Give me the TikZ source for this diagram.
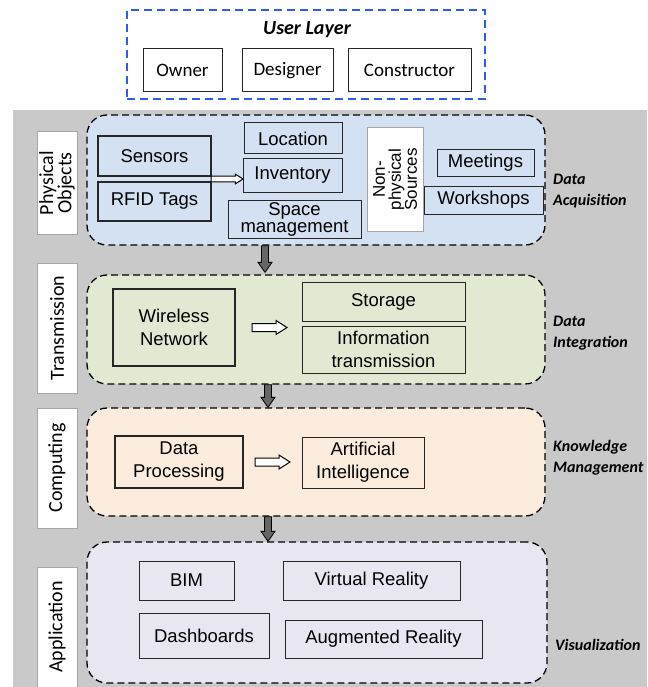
\documentclass[tikz,border=0pt]{standalone}
\usepackage{fontspec}
\setmainfont{Liberation Sans}
\newfontfamily\calibri{Carlito}
\usepackage{xcolor}
\usepackage{tikz}
\usetikzlibrary{calc,positioning}
\definecolor{bggray}{HTML}{C9C9C9}
\definecolor{userblue}{HTML}{2F5BEA}
\definecolor{physfill}{HTML}{D4E1F2}
\definecolor{transfill}{HTML}{E1E9D2}
\definecolor{compfill}{HTML}{FCECDE}
\definecolor{appfill}{HTML}{E8E6F1}
\tikzstyle{box} =[draw=black!85, line width=1pt, inner sep=0pt, outer sep=0pt, align=center, font=\fontsize{18.5}{23}\selectfont]
\tikzstyle{thickbox} =[box, line width=2.3pt]
\tikzstyle{userbox} =[draw=black!85, line width=1pt, inner sep=0pt, minimum height=43, font=\calibri\fontsize{19}{22}\selectfont]
\tikzstyle{layer} =[draw, dash pattern=on 7pt off 4pt, line width=1.3pt, rounded corners=20pt, inner sep=0pt]
\tikzstyle{sidelabel} =[draw=black!35, fill=white, line width=1pt, rotate=90, minimum height=40, inner sep=0pt, align=center, font=\calibri\fontsize{20}{17}\selectfont]
\tikzstyle{stage} =[anchor=west, align=left, inner sep=0pt, font=\calibri\bfseries\itshape\fontsize{16}{21}\selectfont]
% white block arrow from #1 to the tip #2, #3 scales it
\newcommand{\hollowarrow}[3]{%
  \draw[line width=1pt, fill=white] ($#1+(0,-4*#3)$) -- ($#2+(-11*#3,-4*#3)$) -- ($#2+(-11*#3,-7*#3)$) -- #2
    -- ($#2+(-11*#3,7*#3)$) -- ($#2+(-11*#3,4*#3)$) -- ($#1+(0,4*#3)$) -- cycle;}
% dark arrow going down from one layer to the next
\newcommand{\layerarrow}[2]{%
  \draw[line width=0.8pt, fill=black!60] ($#1+(-3.5,0)$) -- ($#2+(-3.5,-10)$) -- ($#2+(-7,-10)$) -- #2
    -- ($#2+(7,-10)$) -- ($#2+(3.5,-10)$) -- ($#1+(3.5,0)$) -- cycle;}

\begin{document}
\begin{tikzpicture}[x=1pt,y=-1pt]
\useasboundingbox (0,0) rectangle (647,687);
\fill[bggray] (13,110) rectangle (647,687);

% users
\node (users)[draw=userblue, dash pattern=on 8pt off 5pt, line width=1.3pt, minimum width=358, minimum height=89, inner sep=0pt] at (306,54.5) {};
\node (usertitle)[font=\calibri\bfseries\itshape\fontsize{20}{24}\selectfont] at (307,29.5) {User Layer};
\node (owner)[userbox, minimum width=79] at (182.5,70.5) {Owner};
\node (designer)[userbox, minimum width=91] at (287.5,70.5) {Designer};
\node (constructor)[userbox, minimum width=123] at (409.5,70.5) {Constructor};

% physical objects
\node (physreg)[layer, fill=physfill, minimum width=458, minimum height=130] at (316,180) {};
\node (physlbl)[sidelabel, minimum width=102] at (57,183) {Physical\\Objects};
\node (sensors)[thickbox, minimum width=113, minimum height=40] at (154.5,156) {Sensors};
\node (rfid)[thickbox, minimum width=113, minimum height=39] at (154.5,201.5) {RFID Tags};
\node (location)[box, minimum width=98, minimum height=31] at (293,138.5) {Location};
\node (inventory)[box, minimum width=99, minimum height=33] at (292.5,175.5) {Inventory};
\node (space)[box, minimum width=133, minimum height=38, font=\fontsize{18.5}{17}\selectfont] at (294.5,219) {Space\\management};
\node (nonphys)[draw=black!35, fill=white, line width=1pt, rotate=90, minimum width=103, minimum height=56, inner sep=0pt, align=center, font=\fontsize{17}{16}\selectfont] at (395,179.5) {Non-\\physical\\Sources};
\node (meetings)[box, minimum width=97, minimum height=26] at (485.5,163) {Meetings};
\node (workshops)[box, minimum width=119, minimum height=28] at (483.5,200) {Workshops};
\node (acq)[stage] at (553,191) {Data\\Acquisition};
\coordinate (tagout) at ($(sensors.south east)!0.5!(rfid.north east)$);
\coordinate (tagin) at (inventory.west |- tagout);
\hollowarrow{(tagout)}{(tagin)}{0.7}

% transmission
\node (transreg)[layer, fill=transfill, minimum width=458, minimum height=109] at (316,329.5) {};
\node (translbl)[sidelabel, minimum width=130] at (57,328) {Transmission};
\node (wireless)[thickbox, minimum width=122, minimum height=77] at (174,327.5) {Wireless\\Network};
\node (storage)[box, minimum width=163, minimum height=39] at (383.5,301.5) {Storage};
\node (infotrans)[box, minimum width=163, minimum height=47] at (383.5,349.5) {Information\\transmission};
\node (integ)[stage] at (553,333.5) {Data\\Integration};
\coordinate (netout) at ($(wireless.east)+(17,0)$);
\coordinate (netin) at ($(storage.west |- wireless.east)+(-15,0)$);
\hollowarrow{(netout)}{(netin)}{1}

% computing
\node (compreg)[layer, fill=compfill, minimum width=458, minimum height=108] at (316,462) {};
\node (complbl)[sidelabel, minimum width=120] at (57,468) {Computing};
\node (dataproc)[thickbox, minimum width=128, minimum height=52] at (179,462) {Data\\Processing};
\node (ai)[box, minimum width=122, minimum height=51] at (363,462.5) {Artificial\\Intelligence};
\node (knowledge)[stage] at (553,457.5) {Knowledge\\Management};
\coordinate (procout) at ($(dataproc.east)+(12,0)$);
\coordinate (procin) at ($(ai.west |- dataproc.east)+(-12,0)$);
\hollowarrow{(procout)}{(procin)}{1}

% application
\node (appreg)[layer, fill=appfill, minimum width=460, minimum height=141] at (317,612.5) {};
\node (applbl)[sidelabel, minimum width=120] at (57,627) {Application};
\node (bim)[box, minimum width=95, minimum height=39] at (186.5,580.5) {BIM};
\node (vr)[box, minimum width=177, minimum height=39] at (371.5,580.5) {Virtual Reality};
\node (dashboards)[box, minimum width=130, minimum height=45] at (204,635.5) {Dashboards};
\node (ar)[box, minimum width=197, minimum height=38] at (383.5,639) {Augmented Reality};
\node (vis)[stage] at (555,645) {Visualization};

% arrows between the layers
\layerarrow{($(physreg.south)+(-51,0)$)}{($(transreg.north)+(-51,-2)$)}
\layerarrow{($(transreg.south)+(-48,0)$)}{($(compreg.north)+(-48,0)$)}
\layerarrow{($(compreg.south)+(-48,0)$)}{($(appreg.north)+(-49,0)$)}
\end{tikzpicture}
\end{document}
